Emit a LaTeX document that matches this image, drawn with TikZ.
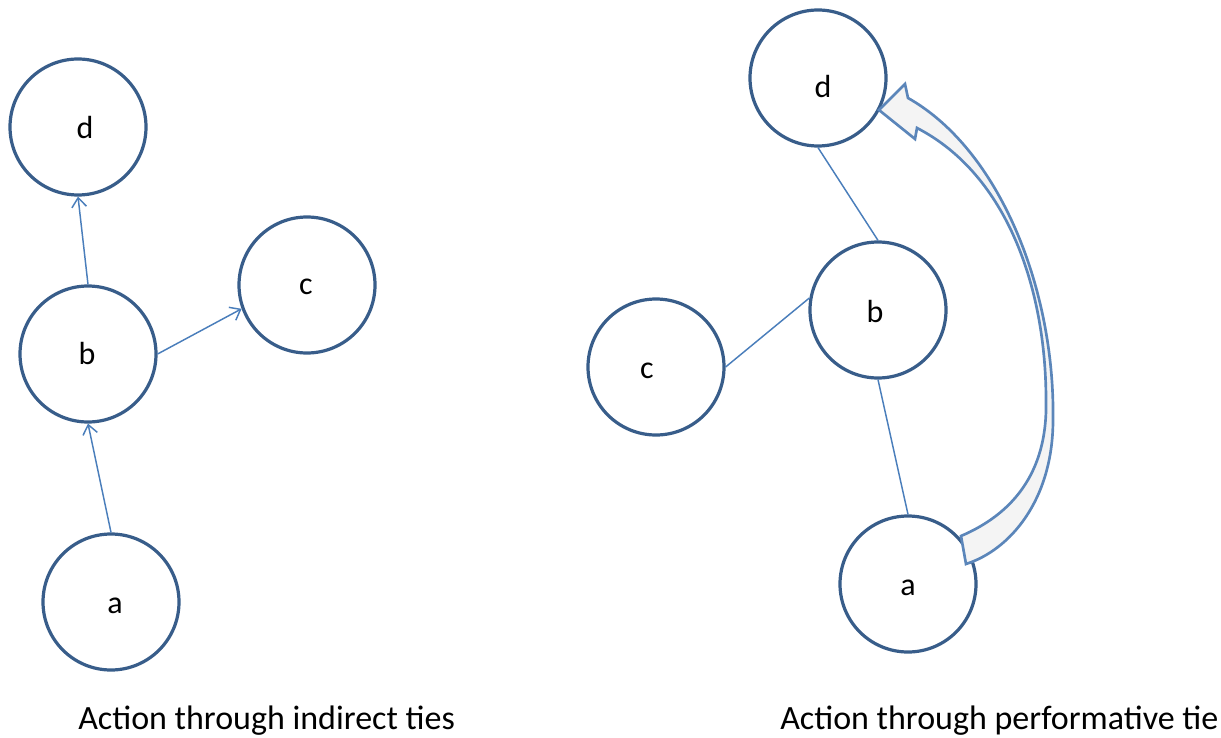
\documentclass[tikz,border=0pt]{standalone}
\usepackage{fontspec}
\setmainfont{Carlito}
\usetikzlibrary{arrows.meta}
\definecolor{circblue}{HTML}{385D8A}
\definecolor{lineblue}{HTML}{4A7EBB}
\definecolor{arrowblue}{HTML}{5B86BA}
\definecolor{arrowfill}{HTML}{F4F4F4}
\tikzset{
  circ/.style={circle, draw=circblue, line width=2.4pt, minimum size=102pt, inner sep=0pt},
  lbl/.style={font=\fontsize{24}{28}\selectfont, anchor=base, inner sep=0pt},
  conn/.style={draw=lineblue, line width=1.1pt},
  arr/.style={conn, -{Straight Barb[length=7pt,width=11pt]}},
  caption/.style={font=\fontsize{25.5}{30}\selectfont, anchor=base west, inner sep=0pt},
  bigarrow/.style={draw=arrowblue, fill=arrowfill, line width=2pt, line join=miter}
}
\begin{document}
\begin{tikzpicture}[x=0.75pt, y=-0.75pt]
\useasboundingbox (0,0) rectangle (1221,738);
% left graph
\node[circ] (ld) at (78,127) {};
\node[circ] (lb) at (88,354) {};
\node[circ] (lc) at (307,285) {};
\node[circ] (la) at (111,602) {};
\node[lbl] (ldt) at (85,139) {d};
\node[lbl] (lbt) at (87,364) {b};
\node[lbl] (lct) at (306,294) {c};
\node[lbl] (lat) at (115,613) {a};
\draw[arr] (lb.north) -- (ld.south);
\draw[arr] (lb.east) -- (lc.200);
\draw[arr] (la.north) -- (lb.south);
% right graph
\node[circ] (rd) at (818,78) {};
\node[circ] (rb) at (878,310) {};
\node[circ] (rc) at (656,367) {};
\node[circ] (ra) at (908,584) {};
\node[lbl] (rdt) at (823,98) {d};
\node[lbl] (rbt) at (875,322) {b};
\node[lbl] (rct) at (647,378) {c};
\node[lbl] (rat) at (908,595) {a};
\draw[conn] (rd.south) -- (rb.north);
\draw[conn] (rb.170) -- (rc.east);
\draw[conn] (rb.south) -- (ra.north);
% curved block arrow from a to d
\coordinate (tip) at (879,110);
\coordinate (ub) at (905,84);
\coordinate (us) at (908,98);
\coordinate (lbarb) at (915,139);
\coordinate (ls) at (917,128);
\coordinate (to) at (966,564);
\coordinate (ti) at (961,536);
\coordinate (om) at (1053,420);
\coordinate (im) at (1046,400);
\path[bigarrow] (tip) -- (ub) -- (us)
  .. controls (1000,150) and (1055,290) .. (om)
  .. controls (1053,500) and (1010,550) .. (to)
  -- (ti)
  .. controls (1010,515) and (1048,475) .. (im)
  .. controls (1046,290) and (1008,175) .. (ls)
  -- (lbarb) -- cycle;
% captions
\node[caption] (cap1) at (78,729) {Action through indirect ties};
\node[caption] (cap2) at (780,729) {Action through performative tie};
\end{tikzpicture}
\end{document}
